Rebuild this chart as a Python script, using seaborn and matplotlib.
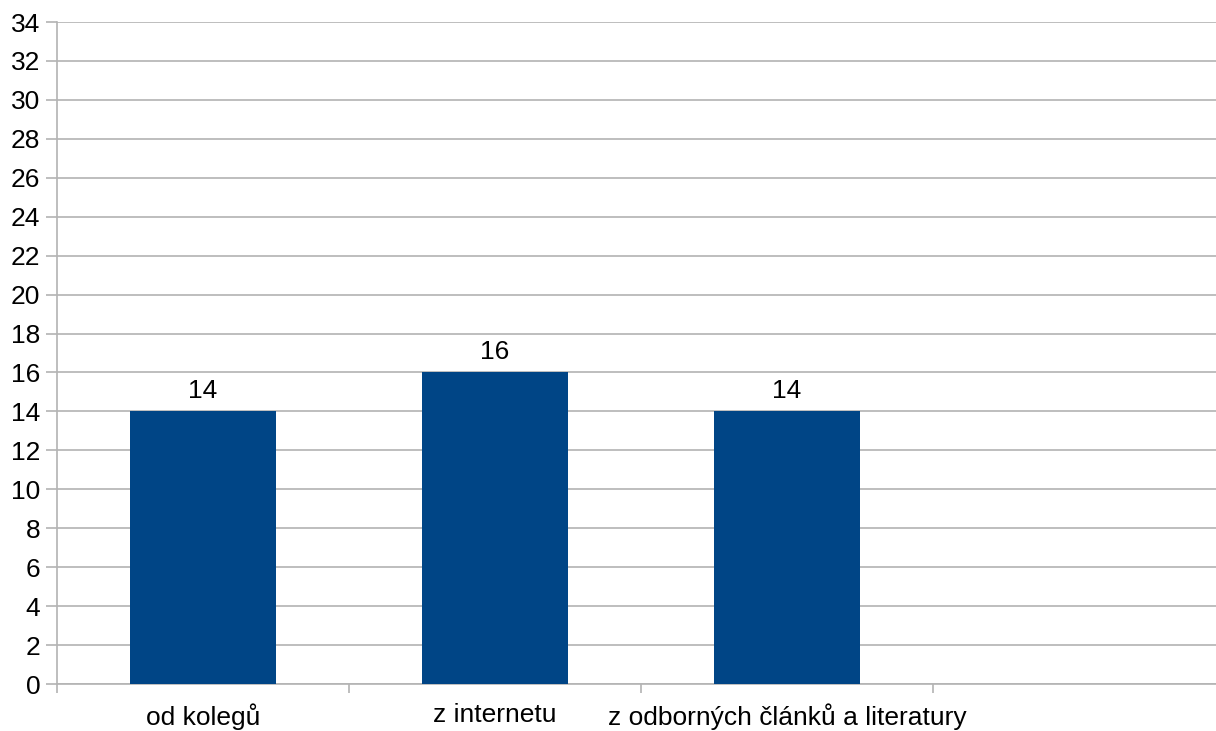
import matplotlib
matplotlib.use("Agg")
import matplotlib.pyplot as plt
import seaborn as sns
import pandas as pd
import numpy as np

categories = ["od kolegů", "z internetu", "z odborných článků a literatury"]
values = [14, 16, 14]
y_ticks = list(range(0, 35, 2))

sns.set_theme(style="white")
plt.rcParams["font.family"] = ["Liberation Sans", "DejaVu Sans"]

df = pd.DataFrame({"zdroj": categories, "pocet": values})

fig = plt.figure(figsize=(12.16, 7.31), dpi=100)
ax = fig.add_axes([57 / 1216, 47 / 731, 1168 / 1216, 662 / 731])

sns.barplot(data=df, x="zdroj", y="pocet", order=categories, color="#004586",
            saturation=1, width=0.5, linewidth=0, edgecolor="none", ax=ax, zorder=3)

grid_c = "#b3b3b3"
fs = 19
ax.set_xlim(-0.5, 3.5)
ax.set_ylim(0, 34)
ax.set_yticks(y_ticks)
ax.set_yticklabels([str(t) for t in y_ticks])
ax.yaxis.grid(True, color=grid_c, linewidth=1.2, zorder=0)
ax.set_axisbelow(True)

ax.set_xticks(range(len(categories)))
ax.set_xticklabels(categories)
ax.set_xticks(np.arange(-0.5, 4.0, 1.0), minor=True)
ax.tick_params(axis="x", which="major", length=0, pad=14, labelsize=fs, colors="black")
ax.tick_params(axis="x", which="minor", length=6.5, width=1.2, color=grid_c, direction="out", bottom=True)
ax.tick_params(axis="y", which="major", length=8, width=1.2, color=grid_c, pad=4, labelsize=fs,
               labelcolor="black", left=True)

for side in ["top", "right"]:
    ax.spines[side].set_visible(False)
for side in ["left", "bottom"]:
    ax.spines[side].set_color(grid_c)
    ax.spines[side].set_linewidth(1.2)

ax.set_xlabel("")
ax.set_ylabel("")

for cont in ax.containers:
    ax.bar_label(cont, labels=[str(v) for v in values], padding=6, fontsize=fs, color="black")

fig.savefig("out.png", dpi=100)
